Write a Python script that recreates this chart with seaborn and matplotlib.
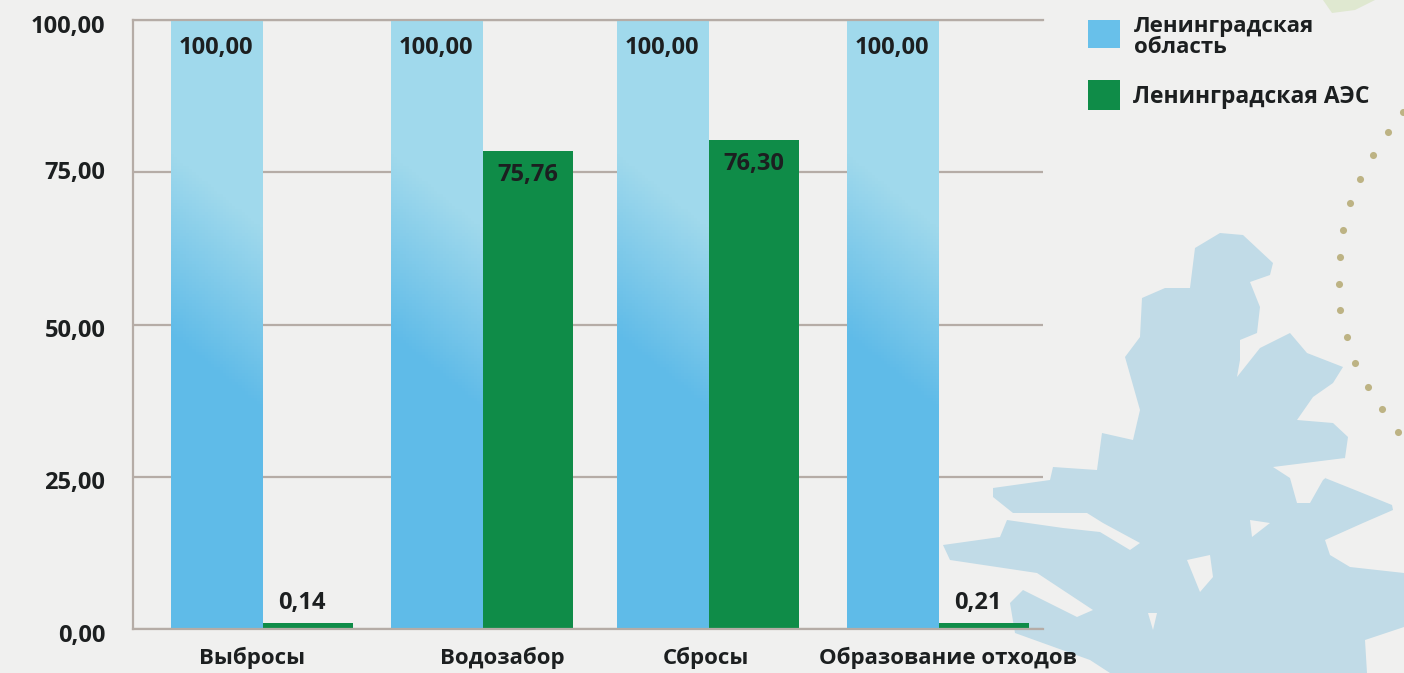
import numpy as np
import pandas as pd
import seaborn as sns
from matplotlib import pyplot as plt
from matplotlib.colors import to_rgb
from matplotlib.patches import Polygon, Rectangle
from matplotlib.transforms import ScaledTranslation

# chart values
categories = ["Выбросы", "Водозабор", "Сбросы", "Образование отходов"]
series_names = ["Ленинградская область", "Ленинградская АЭС"]
oblast_values = [100.0, 100.0, 100.0, 100.0]
# heights as drawn in the picture, the printed labels differ from them
aes_values = [1.0, 78.5, 80.3, 1.0]
oblast_labels = ["100,00", "100,00", "100,00", "100,00"]
aes_labels = ["0,14", "75,76", "76,30", "0,21"]
y_ticks = [0, 25, 50, 75, 100]
y_tick_labels = ["0,00", "25,00", "50,00", "75,00", "100,00"]

# backdrop shapes, in pixels of the 1404x673 picture
MAP_OUTLINE = [
    (1220, 233), (1243, 235), (1273, 263), (1270, 275), (1250, 282), (1260, 307),
    (1257, 333), (1240, 340), (1240, 360), (1237, 377), (1260, 348), (1290, 333),
    (1307, 353), (1343, 367), (1333, 383), (1313, 397), (1297, 420), (1333, 423),
    (1348, 437), (1345, 458), (1338, 465), (1325, 478), (1355, 490), (1392, 505),
    (1393, 510), (1363, 523), (1325, 540), (1330, 555), (1350, 567), (1404, 573),
    (1404, 627), (1365, 640), (1367, 673), (1110, 673), (1090, 660), (1015, 633),
    (1010, 603), (1023, 590), (1077, 617), (1093, 610), (1037, 573), (950, 560),
    (943, 545), (1000, 537), (1007, 520), (1063, 528), (1100, 532), (1130, 550),
    (1140, 543), (1103, 523), (1087, 513), (1013, 513), (993, 497), (993, 488),
    (1050, 480), (1053, 467), (1097, 470), (1102, 433), (1133, 440), (1140, 410),
    (1125, 357), (1140, 337), (1142, 298), (1165, 288), (1190, 288), (1195, 248),
]
MAP_ISLANDS = [
    [(1187, 560), (1210, 555), (1213, 577), (1200, 592)],
    [(1250, 520), (1270, 523), (1252, 537)],
    [(1148, 613), (1157, 613), (1153, 630)],
    [(1273, 467), (1345, 458), (1340, 466), (1323, 480), (1310, 503), (1297, 503), (1290, 478)],
]
ROUTE_DOTS = [
    (1403, 112), (1388, 132), (1373, 155), (1360, 179), (1350, 203), (1343, 230),
    (1340, 257), (1339, 284), (1340, 310), (1347, 337), (1355, 363), (1368, 387),
    (1382, 409), (1398, 432),
]
CORNER_SMUDGE = [(1323, 0), (1375, 0), (1355, 10), (1332, 13)]

BG_COLOR = "#f0f0ef"
MAP_COLOR = "#c1dbe7"
GRID_COLOR = "#b5aca6"
BLUE_TOP = "#a0d9ec"
BLUE_BOTTOM = "#5fbbe8"
GREEN = "#0f8c48"
TEXT_COLOR = "#1c1f20"
FONT = "Open Sans"

sns.set_style("white")
plt.rcParams["font.family"] = [FONT, "DejaVu Sans"]
plt.rcParams["font.weight"] = "bold"

pdf_bars = pd.DataFrame({
    "category": categories * 2,
    "series": [series_names[0]] * 4 + [series_names[1]] * 4,
    "value": oblast_values + aes_values,
})

f = plt.figure(figsize=(14.04, 6.73), dpi=100, facecolor=BG_COLOR)

# backdrop axes in picture pixels: map, route, legend
ax_bg = f.add_axes([0, 0, 1, 1], zorder=0)
ax_bg.set_xlim(0, 1404)
ax_bg.set_ylim(673, 0)
ax_bg.axis("off")
ax_bg.add_patch(Polygon(MAP_OUTLINE, closed=True, fc=MAP_COLOR, ec="none"))
for island in MAP_ISLANDS:
    ax_bg.add_patch(Polygon(island, closed=True, fc=BG_COLOR, ec="none"))
ax_bg.add_patch(Polygon(CORNER_SMUDGE, closed=True, fc="#dfe8d0", ec="none"))
ax_bg.scatter(*zip(*ROUTE_DOTS), s=26, color="#bdb384", linewidths=0)

ax_bg.add_patch(Rectangle((1088, 20), 32, 28, fc="#68c0ea", ec="none"))
ax_bg.add_patch(Rectangle((1088, 80), 32, 30, fc=GREEN, ec="none"))
ax_bg.text(1134, 37, "Ленинградская\nобласть", fontsize=16, color=TEXT_COLOR,
           va="center", ha="left", linespacing=1.05)
ax_bg.text(1133, 97, "Ленинградская АЭС", fontsize=16.5, color=TEXT_COLOR,
           va="center", ha="left")

# plot axes, from 133 to 1043 px across and 20 to 629 px down
ax = f.add_axes([133 / 1404, 1 - 629 / 673, 910 / 1404, 609 / 673], zorder=1)
ax.patch.set_alpha(0)
sns.barplot(data=pdf_bars, x="category", y="value", hue="series",
            palette=[BLUE_BOTTOM, GREEN], width=0.81, gap=0, saturation=1,
            linewidth=0, legend=False, ax=ax)

ax.set_xlim(-0.573, 3.466)
ax.set_ylim(0, 100)
ax.set_xlabel("")
ax.set_ylabel("")
ax.set_yticks(y_ticks)
ax.set_yticklabels(y_tick_labels, fontsize=17, color=TEXT_COLOR)
ax.tick_params(axis="y", length=0, pad=20)
ax.tick_params(axis="x", length=0, pad=12.5, labelsize=16, labelcolor=TEXT_COLOR)
ax.set_axisbelow(True)
ax.yaxis.grid(True, color=GRID_COLOR, linewidth=1.6)
ax.xaxis.grid(False)
for side in ["left", "top", "bottom"]:
    ax.spines[side].set_color(GRID_COLOR)
    ax.spines[side].set_linewidth(1.6)
ax.spines["right"].set_visible(False)

# the groups are not evenly spaced in the picture
group_nudges = [0, -0.023, -0.02, 0]
for container in ax.containers:
    for bar, nudge in zip(container, group_nudges):
        bar.set_x(bar.get_x() + nudge)

# tick labels sit off their groups too, offsets in px
label_nudges = [-10, 15, -7, 10]
for label, nudge in zip(ax.get_xticklabels(), label_nudges):
    label.set_transform(label.get_transform()
                        + ScaledTranslation(nudge / 100, 0, f.dpi_scale_trans))
y_label_drops = [4, 3, 3, -2, 4]
for label, drop in zip(ax.get_yticklabels(), y_label_drops):
    label.set_transform(label.get_transform()
                        + ScaledTranslation(0, -drop / 100, f.dpi_scale_trans))

# vertical fade on the blue bars, slightly tilted
rows, cols = 200, 30
top_rgb, bottom_rgb = np.array(to_rgb(BLUE_TOP)), np.array(to_rgb(BLUE_BOTTOM))
depth = np.linspace(0, 1, rows)[:, None] + 0.12 * np.linspace(0.5, -0.5, cols)[None, :]
mix = np.clip((depth - 0.28) / 0.3, 0, 1)[..., None]
fade = top_rgb * (1 - mix) + bottom_rgb * mix
for bar in ax.containers[0]:
    image = ax.imshow(fade, aspect="auto", zorder=bar.get_zorder() + 0.1,
                      extent=(bar.get_x(), bar.get_x() + bar.get_width(),
                              0, bar.get_height()))
    image.set_clip_path(bar)
ax.set_xlim(-0.573, 3.466)
ax.set_ylim(0, 100)

for bar, text in zip(ax.containers[0], oblast_labels):
    ax.annotate(text, (bar.get_x() + bar.get_width() / 2 - 0.004, bar.get_height()),
                xytext=(0, -20), textcoords="offset points", ha="center", va="center",
                fontsize=17, color=TEXT_COLOR, zorder=5)
for bar, text, value in zip(ax.containers[1], aes_labels, aes_values):
    inside = value > 5
    ax.annotate(text, (bar.get_x() + bar.get_width() / 2 - (0 if inside else 0.026), value),
                xytext=(0, -17 if inside else 14), textcoords="offset points",
                ha="center", va="center", fontsize=17, color=TEXT_COLOR, zorder=5)

f.savefig("out.png", dpi=100, facecolor=BG_COLOR)
